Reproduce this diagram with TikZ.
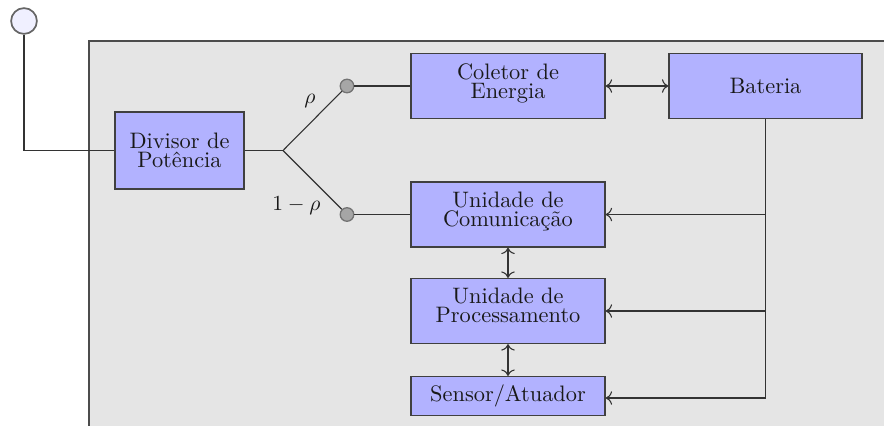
\documentclass[tikz,border=0pt]{standalone}
\usetikzlibrary{arrows.meta}
\begin{document}
\begin{tikzpicture}[x=0.465pt,y=-0.465pt,
  panel/.style={draw=black!70, line width=0.5pt, fill=black!10},
  block/.style={draw=black!75, line width=0.6pt, fill=blue!30, inner sep=0pt,
                align=center, text=black!90, font=\fontsize{10.4}{8.9}\selectfont,
                minimum width=90.2pt, minimum height=30.2pt},
  port/.style={circle, draw=black!55, fill=black!35, line width=0.6pt,
               minimum size=6.3pt, inner sep=0pt},
  antenna/.style={circle, draw=black!60, fill=blue!6, line width=0.8pt,
                  minimum size=12pt, inner sep=0pt},
  wire/.style={draw=black!80, line width=0.5pt},
  link/.style={wire, {To[length=3pt]}-{To[length=3pt]}},
  feed/.style={wire, -{To[length=3pt]}}]
\useasboundingbox (0,0) rectangle (884,425);
\clip (0,0) rectangle (884,425);

% enclosure of the sensor node
\draw[panel] (89,41) rectangle (920,460);

% antenna and power path
\node[antenna] (ant) at (24,21) {};
\node[block, minimum width=60pt, minimum height=35.8pt] (div) at (179.5,150.5) {Divisor de\\Potência};
\coordinate (split) at (283,150.5);
\node[port] (pup) at (347,86) {};
\node[port] (pdn) at (347,214.5) {};

\node[block, text depth=4.6pt] (col) at (508,86) {Coletor de\\Energia};
\node[block, minimum width=89.7pt] (bat) at (765.5,86) {Bateria};
\node[block, text depth=4.8pt] (com) at (508,214.5) {Unidade de\\Comunicação};
\node[block, text depth=5.5pt] (proc) at (508,311) {Unidade de\\Processamento};
\node[block, minimum height=18.1pt] (sen) at (508,396) {Sensor/Atuador};

\draw[wire] (ant.south) |- (div.west);
\draw[wire] (div.east) -- (split);
\draw[wire] (split) -- (pup);
\draw[wire] (split) -- (pdn);
\draw[wire] (pup) -- (col.west);
\draw[wire] (pdn) -- (pdn -| com.west);

\node[text=black!90, font=\fontsize{10.4}{12}\selectfont] (rho) at (310,101) {$\rho$};
\node[text=black!90, font=\fontsize{10.4}{12}\selectfont] (rhoc) at (296.5,206) {$1-\rho$};

% energy and data links
\draw[link] (col.east) -- (bat.west);
\draw[link] (com.south) -- (proc.north);
\draw[link] (proc.south) -- (sen.north);

% supply from the battery
\coordinate (bus) at (765.5,398);
\draw[wire] (bat.south) -- (bus);
\draw[feed] (bat.south |- com.east) -- (com.east);
\draw[feed] (bat.south |- proc.east) -- (proc.east);
\draw[feed] (bus) -- (bus -| sen.east);
\end{tikzpicture}
\end{document}
